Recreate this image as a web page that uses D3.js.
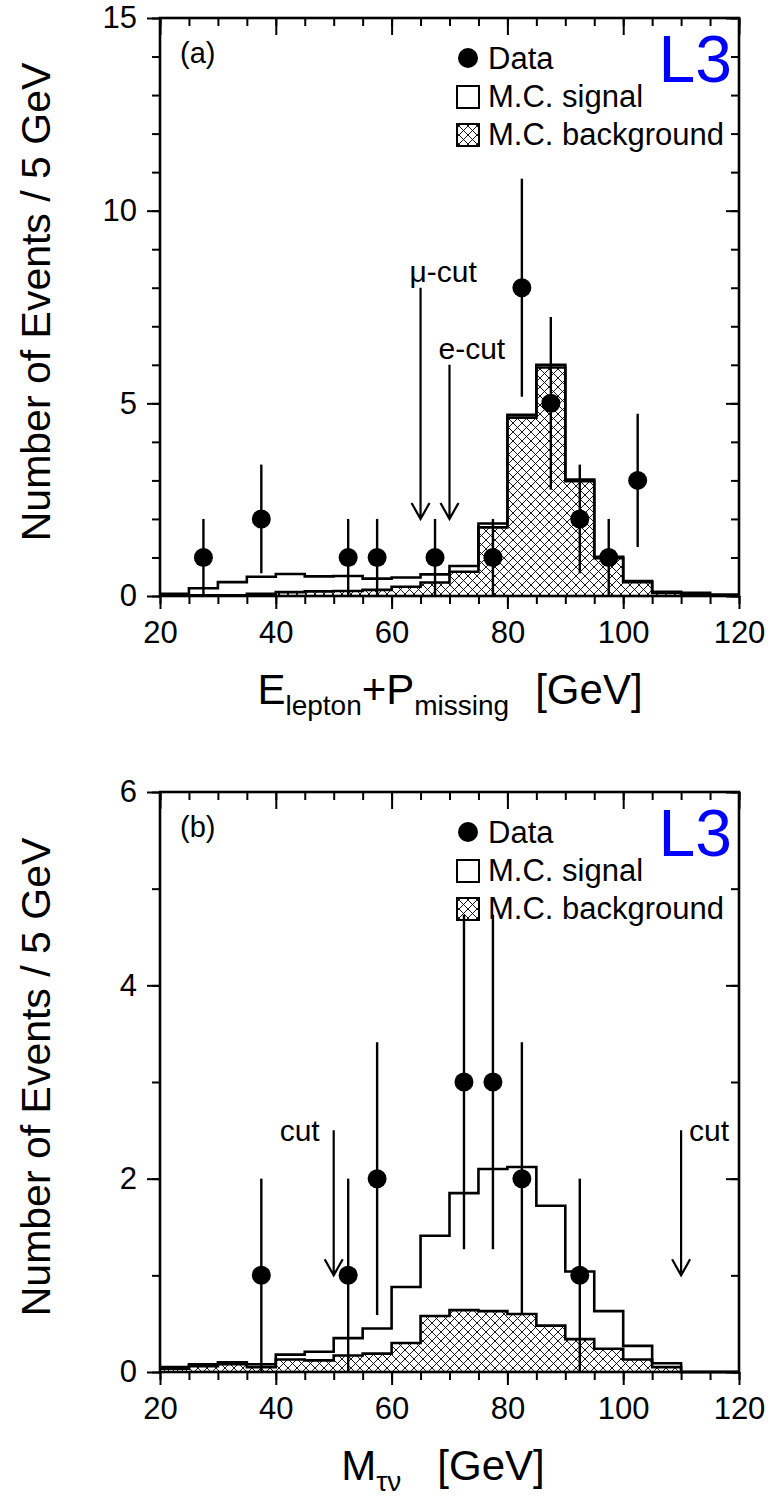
<!DOCTYPE html>
<html>
<head>
<meta charset="utf-8">
<script src="https://cdn.jsdelivr.net/npm/d3@7"></script>
<style>
  body { margin: 0; background: #fff; }
  text { font-family: "Liberation Sans", Arial, Helvetica, sans-serif; }
</style>
</head>
<body>
<script>
;(function (d3) {
  // bin edges (GeV), 5 GeV wide
  var binEdges = [20, 25, 30, 35, 40, 45, 50, 55, 60, 65, 70, 75, 80, 85, 90, 95, 100, 105, 110, 115, 120]

  // panel (a): E_lepton + P_missing
  var sigA = [0.06, 0.20, 0.36, 0.50, 0.57, 0.51, 0.52, 0.45, 0.48, 0.56, 0.78, 1.88, 4.70, 6.00, 3.02, 1.02, 0.39, 0.11, 0.08, 0.04]
  var bgA = [0.02, 0.02, 0.02, 0.06, 0.10, 0.12, 0.13, 0.16, 0.24, 0.35, 0.63, 1.78, 4.63, 5.93, 2.98, 0.98, 0.36, 0.08, 0.06, 0.02]
  var dataAx = [27.5, 37.5, 52.5, 57.5, 67.5, 77.5, 82.5, 87.5, 92.5, 97.5, 102.5]
  var dataAn = [1, 2, 1, 1, 1, 1, 8, 5, 2, 1, 3]
  var dataAerr = [1, 1.41, 1, 1, 1, 1, 2.83, 2.24, 1.41, 1, 1.73]
  var cutsA = [
    {x: 65, top: 8.0, tip: 2.0, label: 'μ-cut', side: 'start'},
    {x: 70, top: 6.0, tip: 2.0, label: 'e-cut', side: 'start'}
  ]

  // panel (b): M_tau-nu
  var sigB = [0.05, 0.08, 0.10, 0.08, 0.18, 0.21, 0.35, 0.45, 0.88, 1.41, 1.85, 2.10, 2.12, 1.72, 1.04, 0.63, 0.27, 0.09, 0, 0]
  var bgB = [0.035, 0.06, 0.08, 0.05, 0.13, 0.12, 0.17, 0.19, 0.30, 0.58, 0.64, 0.63, 0.60, 0.48, 0.34, 0.24, 0.13, 0.05, 0, 0]
  var dataBx = [37.5, 52.5, 57.5, 72.5, 77.5, 82.5, 92.5]
  var dataBn = [1, 1, 2, 3, 3, 2, 1]
  var dataBerr = [1, 1, 1.41, 1.73, 1.73, 1.41, 1]
  var cutsB = [
    {x: 50, top: 2.5, tip: 1.0, label: 'cut', side: 'end'},
    {x: 110, top: 2.5, tip: 1.0, label: 'cut', side: 'start'}
  ]

  var xTicksMajor = [20, 40, 60, 80, 100, 120]
  var legendLabels = ['Data', 'M.C. signal', 'M.C. background']

  var left = 160, right = 739

  var svg = d3.select('body').append('svg')
    .attr('width', 773)
    .attr('height', 1499)

  svg.append('rect').attr('width', 773).attr('height', 1499).attr('fill', '#fff')

  var pat = svg.append('defs').append('pattern')
    .attr('id', 'hatch')
    .attr('patternUnits', 'userSpaceOnUse')
    .attr('width', 9)
    .attr('height', 9)
  pat.append('path')
    .attr('d', 'M0,0L9,9M9,0L0,9')
    .attr('stroke', '#000')
    .attr('stroke-width', 0.9)

  function panel(opt) {
    var x = d3.scaleLinear().domain([20, 120]).range([left, right])
    var y = d3.scaleLinear().domain([0, opt.ymax]).range([opt.bottom, opt.top])
    var g = svg.append('g')

    var edges = binEdges.map(function (e, i) {
      return {x: e, s: opt.sig[Math.min(i, opt.sig.length - 1)], b: opt.bg[Math.min(i, opt.bg.length - 1)]}
    })

    // signal (total) outline
    g.append('path')
      .attr('d', d3.line().curve(d3.curveStepAfter)
        .x(function (d) { return x(d.x) })
        .y(function (d) { return y(d.s) })(edges))
      .attr('fill', 'none')
      .attr('stroke', '#000')
      .attr('stroke-width', 2.6)

    // background hatched
    g.append('path')
      .attr('d', d3.area().curve(d3.curveStepAfter)
        .x(function (d) { return x(d.x) })
        .y0(y(0))
        .y1(function (d) { return y(d.b) })(edges))
      .attr('fill', 'url(#hatch)')
    g.append('path')
      .attr('d', d3.line().curve(d3.curveStepAfter)
        .x(function (d) { return x(d.x) })
        .y(function (d) { return y(d.b) })(edges))
      .attr('fill', 'none')
      .attr('stroke', '#000')
      .attr('stroke-width', 2.6)

    // axes
    var minorY = d3.range(0, opt.ymax + 1, 1)
    function yAxis(tx, labels) {
      g.append('g').attr('transform', 'translate(' + tx + ',0)')
        .call(d3.axisLeft(y).tickValues(minorY).tickSize(8).tickFormat(''))
        .call(function (s) { s.select('.domain').remove() })
      var a = g.append('g').attr('transform', 'translate(' + tx + ',0)')
        .call(d3.axisLeft(y).tickValues(opt.yMajor).tickSize(13).tickPadding(10)
          .tickFormat(labels ? d3.format('d') : ''))
        .call(function (s) { s.select('.domain').remove() })
      a.selectAll('text').attr('font-size', 31).attr('font-family', null)
    }
    function xAxis(ty, labels) {
      g.append('g').attr('transform', 'translate(0,' + ty + ')')
        .call(d3.axisBottom(x).tickValues(binEdges).tickSize(8).tickFormat(''))
        .call(function (s) { s.select('.domain').remove() })
      var a = g.append('g').attr('transform', 'translate(0,' + ty + ')')
        .call(d3.axisBottom(x).tickValues(xTicksMajor).tickSize(labels ? 13 : 17).tickPadding(12)
          .tickFormat(labels ? d3.format('d') : ''))
        .call(function (s) { s.select('.domain').remove() })
      a.selectAll('text').attr('font-size', 31).attr('font-family', null)
    }
    yAxis(left, true)
    yAxis(right, false)
    xAxis(opt.bottom, true)
    xAxis(opt.top, false)
    g.selectAll('.tick line').attr('stroke-width', 2)

    g.append('rect')
      .attr('x', left).attr('y', opt.top)
      .attr('width', right - left).attr('height', opt.bottom - opt.top)
      .attr('fill', 'none').attr('stroke', '#000').attr('stroke-width', 2.6)

    // cut arrows
    opt.cuts.forEach(function (c) {
      var cx = x(c.x), ty = y(c.top), py = y(c.tip)
      g.append('path')
        .attr('d', 'M' + cx + ',' + ty + 'V' + py + 'M' + (cx - 9) + ',' + (py - 16) + 'L' + cx + ',' + py + 'L' + (cx + 9) + ',' + (py - 16))
        .attr('fill', 'none').attr('stroke', '#000').attr('stroke-width', 2.2)
      g.append('text')
        .attr('x', c.side === 'start' ? (opt.name === 'a' ? cx - 11 : cx + 8) : cx - 14)
        .attr('y', opt.name === 'a' ? ty - 6 : ty + 11)
        .attr('text-anchor', c.side)
        .attr('font-size', 30)
        .text(c.label)
    })

    // data points
    opt.dx.forEach(function (v, i) {
      var n = opt.dn[i], e = opt.derr[i]
      g.append('line')
        .attr('x1', x(v)).attr('x2', x(v))
        .attr('y1', y(n - e)).attr('y2', y(n + e))
        .attr('stroke', '#000').attr('stroke-width', 2.4)
      g.append('circle')
        .attr('cx', x(v)).attr('cy', y(n)).attr('r', 9.5)
        .attr('fill', '#000')
    })

    // label, legend, L3
    g.append('text').attr('x', 180).attr('y', opt.top + 45)
      .attr('font-size', 29).text('(' + opt.name + ')')

    var lx = 468, ly = opt.top + 40
    g.append('circle').attr('cx', lx).attr('cy', ly).attr('r', 10).attr('fill', '#000')
    g.append('rect').attr('x', lx - 11).attr('y', ly + 28).attr('width', 22).attr('height', 22)
      .attr('fill', '#fff').attr('stroke', '#000').attr('stroke-width', 2)
    g.append('rect').attr('x', lx - 11).attr('y', ly + 66).attr('width', 22).attr('height', 22)
      .attr('fill', 'url(#hatch)').attr('stroke', '#000').attr('stroke-width', 2)
    legendLabels.forEach(function (t, i) {
      g.append('text').attr('x', lx + 20)
        .attr('y', ly + 11 + i * 38)
        .attr('font-size', 31).text(t)
    })
    g.append('text').attr('x', right - 7).attr('y', opt.top + 64)
      .attr('text-anchor', 'end').attr('font-size', 66).attr('fill', '#0000ff').text('L3')

    // y title
    g.append('text')
      .attr('transform', 'translate(50,' + ((opt.top + opt.bottom) / 2 - 5) + ') rotate(-90)')
      .attr('text-anchor', 'middle')
      .attr('font-size', 41)
      .text('Number of Events / 5 GeV')

    // x title
    var xt = g.append('text')
      .attr('x', opt.titleX).attr('y', opt.bottom + 108)
      .attr('text-anchor', 'middle')
      .attr('font-size', 42)
    opt.xtitle.forEach(function (p) {
      xt.append('tspan')
        .attr('font-size', p.sub ? 28 : 42)
        .attr('dy', p.dy || 0)
        .attr('dx', p.dx || 0)
        .text(p.t)
    })
  }

  panel({
    name: 'a', top: 18, bottom: 596, ymax: 15, yMajor: [0, 5, 10, 15],
    sig: sigA, bg: bgA, dx: dataAx, dn: dataAn, derr: dataAerr, cuts: cutsA, titleX: 450,
    xtitle: [{t: 'E'}, {t: 'lepton', sub: true, dy: 11}, {t: '+P', dy: -11},
      {t: 'missing', sub: true, dy: 11}, {t: '[GeV]', dy: -11, dx: 26}]
  })

  panel({
    name: 'b', top: 792, bottom: 1372, ymax: 6, yMajor: [0, 2, 4, 6],
    sig: sigB, bg: bgB, dx: dataBx, dn: dataBn, derr: dataBerr, cuts: cutsB, titleX: 443,
    xtitle: [{t: 'M'}, {t: 'τν', sub: true, dy: 11}, {t: '[GeV]', dy: -11, dx: 36}]
  })
})(window.d3)
</script>
</body>
</html>
